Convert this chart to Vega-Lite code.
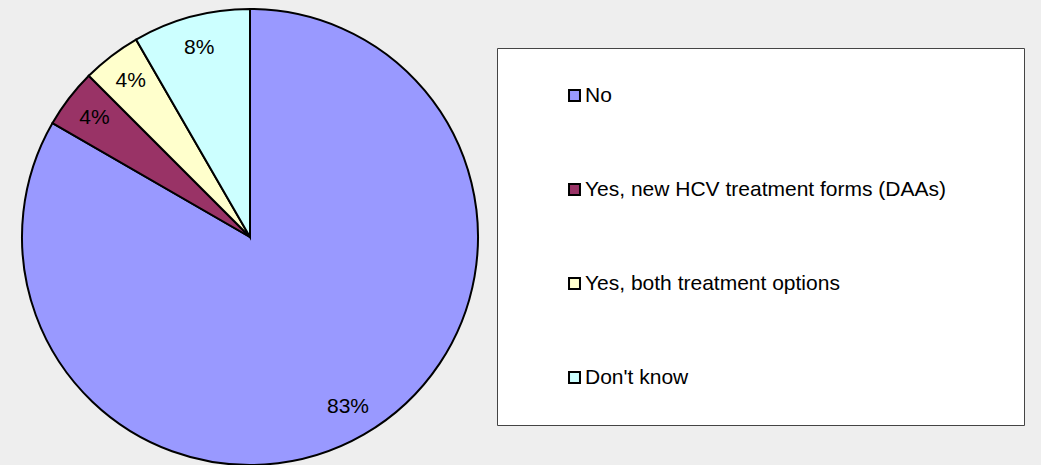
{
  "$schema": "https://vega.github.io/schema/vega-lite/v6.json",
  "width": 456,
  "height": 456,
  "padding": {"left": 18, "top": 5, "right": 20, "bottom": 0},
  "autosize": {"type": "pad"},
  "background": "#eeeeee",
  "config": {"view": {"stroke": null}, "font": "Liberation Sans"},
  "data": {
    "values": [
      {"answer": "No", "pct": 83.33, "label": "83%", "order": 1},
      {"answer": "Yes, new HCV treatment forms (DAAs)", "pct": 4.17, "label": "4%", "order": 2},
      {"answer": "Yes, both treatment options", "pct": 4.17, "label": "4%", "order": 3},
      {"answer": "Don't know", "pct": 8.33, "label": "8%", "order": 4}
    ]
  },
  "encoding": {
    "theta": {"field": "pct", "type": "quantitative", "stack": true},
    "order": {"field": "order", "type": "quantitative"}
  },
  "layer": [
    {
      "mark": {"type": "arc", "stroke": "black", "strokeWidth": 2},
      "encoding": {
        "color": {
          "field": "answer",
          "type": "nominal",
          "scale": {
            "domain": ["No", "Yes, new HCV treatment forms (DAAs)", "Yes, both treatment options", "Don't know"],
            "range": ["#9999ff", "#993366", "#ffffcc", "#ccffff"]
          },
          "legend": {
            "orient": "none",
            "legendX": 475,
            "legendY": 39,
            "title": null,
            "symbolType": "square",
            "symbolSize": 120,
            "symbolStrokeColor": "black",
            "symbolStrokeWidth": 2,
            "symbolOpacity": 1,
            "labelFontSize": 21,
            "labelColor": "black",
            "labelFont": "Liberation Sans",
            "labelLimit": 0,
            "labelExpr": "datum.label + '       \u200b'",
            "fillColor": "white",
            "strokeColor": "#444444",
            "padding": 37,
            "rowPadding": 72,
            "symbolOffset": 30,
            "labelOffset": 0
          }
        }
      }
    },
    {
      "mark": {"type": "text", "radius": 196, "fontSize": 21, "color": "black", "font": "Liberation Sans"},
      "encoding": {"text": {"field": "label", "type": "nominal"}}
    }
  ]
}
